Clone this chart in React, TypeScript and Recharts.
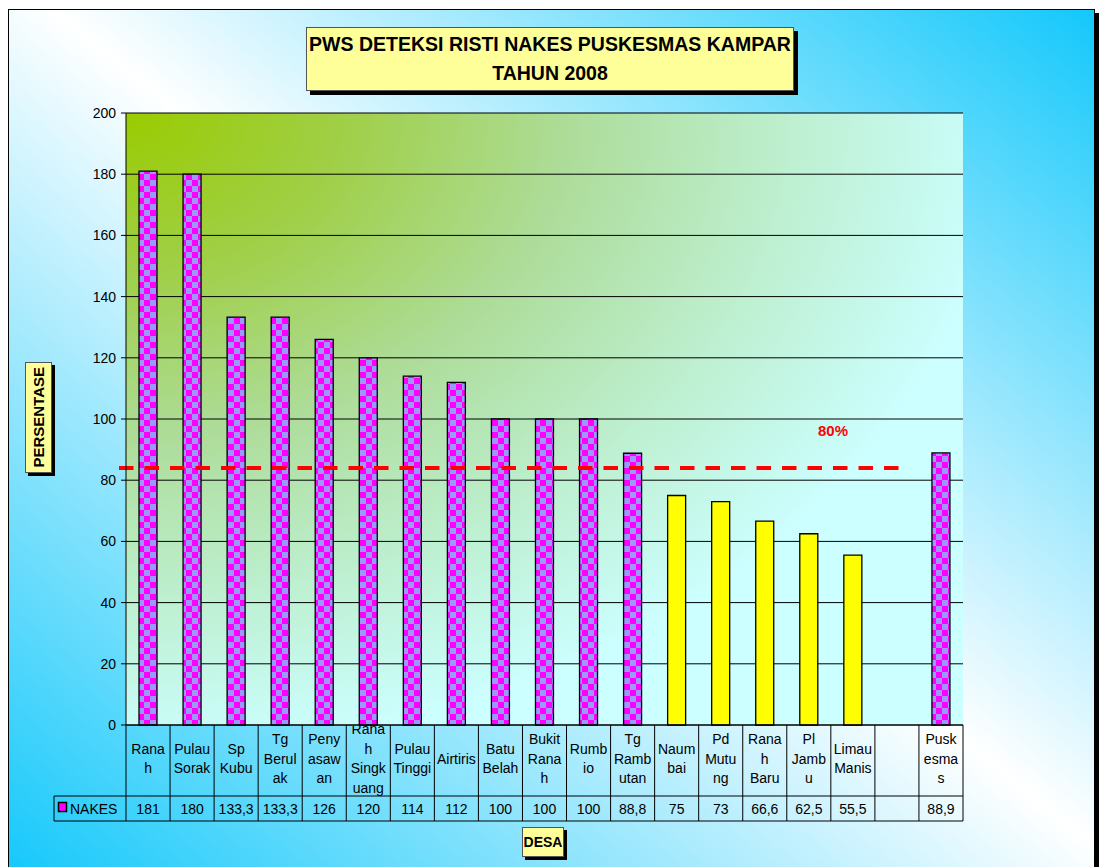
import { Bar, BarChart, CartesianGrid, Cell, ReferenceLine, XAxis, YAxis } from "recharts";

const desa = [
  "Ranah",
  "Pulau Sorak",
  "Sp Kubu",
  "Tg Berulak",
  "Penyasawan",
  "Ranah Singkuang",
  "Pulau Tinggi",
  "Airtiris",
  "Batu Belah",
  "Bukit Ranah",
  "Rumbio",
  "Tg Rambutan",
  "Naumbai",
  "Pd Mutung",
  "Ranah Baru",
  "Pl Jambu",
  "Limau Manis",
  " ",
  "Puskesmas",
];

// label kategori seperti terbungkus di tabel data
const labelDesa = [
  ["Rana", "h"],
  ["Pulau", "Sorak"],
  ["Sp", "Kubu"],
  ["Tg", "Berul", "ak"],
  ["Peny", "asaw", "an"],
  ["Rana", "h", "Singk", "uang"],
  ["Pulau", "Tinggi"],
  ["Airtiris"],
  ["Batu", "Belah"],
  ["Bukit", "Rana", "h"],
  ["Rumb", "io"],
  ["Tg", "Ramb", "utan"],
  ["Naum", "bai"],
  ["Pd", "Mutu", "ng"],
  ["Rana", "h", "Baru"],
  ["Pl", "Jamb", "u"],
  ["Limau", "Manis"],
  [],
  ["Pusk", "esma", "s"],
];

const nakes: (number | null)[] = [
  181, 180, 133.3, 133.3, 126, 120, 114, 112, 100, 100, 100, 88.8, 75, 73, 66.6, 62.5, 55.5, null, 88.9,
];

const yTicks = [0, 20, 40, 60, 80, 100, 120, 140, 160, 180, 200];
const garisTarget = 84;
const labelTarget = "80%";
const batasKuning = 80;
const namaSeri = "NAKES";

const data = desa.map((name, i) => ({ name, nakes: nakes[i] }));

// geometri
const W = 1101;
const H = 867;
const PLOT_L = 126;
const PLOT_R = 963;
const PLOT_T = 113;
const PLOT_B = 725;
const ROW_TOP = 796;
const ROW_BOTTOM = 821;
const LEGEND_L = 54;
const bandW = (PLOT_R - PLOT_L) / desa.length;

const FONT = '"Liberation Sans", Arial, Helvetica, sans-serif';

function formatNilai(v: number | null) {
  return v == null ? "" : String(v).replace(".", ",");
}

function TabelTick(props: any) {
  const { x, payload } = props;
  const i = desa.indexOf(payload.value);
  const left = x - bandW / 2;
  const lines = labelDesa[i] ?? [];
  const mid = 758.5;
  return (
    <g>
      <line x1={left} x2={left} y1={PLOT_B} y2={ROW_BOTTOM} stroke="#000" />
      {i === desa.length - 1 && (
        <line x1={left + bandW} x2={left + bandW} y1={PLOT_B} y2={ROW_BOTTOM} stroke="#000" />
      )}
      {i === 0 && (
        <g>
          <line x1={LEGEND_L} x2={PLOT_R} y1={ROW_TOP} y2={ROW_TOP} stroke="#000" />
          <line x1={LEGEND_L} x2={PLOT_R} y1={ROW_BOTTOM} y2={ROW_BOTTOM} stroke="#000" />
          <line x1={LEGEND_L} x2={LEGEND_L} y1={ROW_TOP} y2={ROW_BOTTOM} stroke="#000" />
          <rect x={58.5} y={802.5} width={8} height={9} fill="#ff00ff" stroke="#000" strokeWidth={1.5} />
          <text x={70} y={814} fontSize={14} fill="#000">
            {namaSeri}
          </text>
        </g>
      )}
      <g clipPath="url(#clipKategori)">
        {lines.map((t, k) => (
          <text
            key={k}
            x={x}
            y={mid + (k - (lines.length - 1) / 2) * 19.5 + 5}
            textAnchor="middle"
            fontSize={14}
            fill="#000"
          >
            {t}
          </text>
        ))}
      </g>
      <text x={x} y={(ROW_TOP + ROW_BOTTOM) / 2 + 5} textAnchor="middle" fontSize={14} fill="#000">
        {formatNilai(nakes[i])}
      </text>
    </g>
  );
}

function GarisTarget(props: any) {
  const { x1, y1, x2, y2 } = props;
  return (
    <g>
      <line
        x1={x1 - 7}
        y1={y1}
        x2={x2 - 62}
        y2={y2}
        stroke="#ff0000"
        strokeWidth={4}
        strokeDasharray="14.5 11"
      />
      <text x={x2 - 130} y={y1 - 32} textAnchor="middle" fontSize={15} fontWeight="bold" fill="#ff0000">
        {labelTarget}
      </text>
    </g>
  );
}

const kotakKuning: React.CSSProperties = {
  position: "absolute",
  background: "#ffff99",
  border: "1px solid #555",
  boxShadow: "4px 4px 0 #000",
  fontWeight: "bold",
  color: "#000",
  boxSizing: "border-box",
  display: "flex",
  alignItems: "center",
  justifyContent: "center",
  textAlign: "center",
};

export default function App() {
  return (
    <div
      style={{
        position: "fixed",
        left: 0,
        top: 0,
        width: W,
        height: H,
        overflow: "hidden",
        background: "#fff",
        fontFamily: FONT,
      }}
    >
      <div
        style={{
          position: "absolute",
          left: 8,
          top: 9,
          width: 1087,
          height: 872,
          boxSizing: "border-box",
          border: "1px solid #000",
          boxShadow: "4px 4px 0 #000",
          background: "linear-gradient(to top right, #14c8fb 0%, #ffffff 52%, #14c8fb 100%)",
        }}
      />
      <div style={{ position: "absolute", left: 0, top: 0 }}>
        <BarChart
          width={W}
          height={H}
          data={data}
          margin={{ top: PLOT_T, right: W - PLOT_R, bottom: 0, left: 0 }}
          barCategoryGap={0}
        >
          <defs>
            <pattern id="kotak" width={12} height={12} patternUnits="userSpaceOnUse">
              <rect width={12} height={12} fill="#9999ff" />
              <rect x={0} y={0} width={6} height={6} fill="#ff00ff" />
              <rect x={6} y={6} width={6} height={6} fill="#ff00ff" />
            </pattern>
            <radialGradient id="latarPlot" cx="0" cy="0" r="1.05" fx="0" fy="0">
              <stop offset="0%" stopColor="#99cc00" />
              <stop offset="25%" stopColor="#a0cf48" />
              <stop offset="50%" stopColor="#addc98" />
              <stop offset="75%" stopColor="#bdefcf" />
              <stop offset="100%" stopColor="#ccffff" />
            </radialGradient>
            <clipPath id="clipKategori">
              <rect x={PLOT_L} y={PLOT_B + 1} width={PLOT_R - PLOT_L} height={ROW_TOP - PLOT_B - 1} />
            </clipPath>
          </defs>
          <CartesianGrid vertical={false} stroke="#000" fill="url(#latarPlot)" fillOpacity={1} />
          <XAxis
            dataKey="name"
            interval={0}
            height={H - PLOT_B}
            tickLine={false}
            axisLine={{ stroke: "#000" }}
            tick={<TabelTick />}
          />
          <XAxis
            xAxisId="atas"
            dataKey="name"
            orientation="top"
            height={0}
            tick={false}
            tickLine={false}
            axisLine={{ stroke: "#808080", strokeWidth: 2 }}
          />
          <YAxis
            domain={[0, 200]}
            ticks={yTicks}
            width={PLOT_L}
            tickSize={5}
            tickMargin={5}
            axisLine={{ stroke: "#000" }}
            tickLine={{ stroke: "#000" }}
            tick={{ fill: "#000", fontSize: 14 }}
          />
          <YAxis
            yAxisId="kanan"
            orientation="right"
            domain={[0, 200]}
            width={0}
            tick={false}
            tickLine={false}
            axisLine={{ stroke: "#808080", strokeWidth: 2 }}
          />
          <Bar dataKey="nakes" barSize={18} stroke="#000" strokeWidth={1.3} isAnimationActive={false}>
            {data.map((d, i) => (
              <Cell
                key={i}
                fill={d.nakes != null && d.nakes < batasKuning ? "#ffff00" : "url(#kotak)"}
              />
            ))}
          </Bar>
          <ReferenceLine y={garisTarget} shape={<GarisTarget />} />
        </BarChart>
      </div>

      <div style={{ ...kotakKuning, left: 306, top: 27, width: 488, height: 64, fontSize: 19.5, lineHeight: "29px" }}>
        PWS DETEKSI RISTI NAKES PUSKESMAS KAMPAR
        <br />
        TAHUN 2008
      </div>
      <div style={{ ...kotakKuning, left: 25, top: 362, width: 27, height: 111, boxShadow: "3px 3px 0 #000" }}>
        <span style={{ writingMode: "vertical-rl", transform: "rotate(180deg)", fontSize: 15 }}>PERSENTASE</span>
      </div>
      <div style={{ ...kotakKuning, left: 522, top: 827, width: 42, height: 30, fontSize: 14, boxShadow: "3px 3px 0 #000" }}>
        DESA
      </div>
    </div>
  );
}
